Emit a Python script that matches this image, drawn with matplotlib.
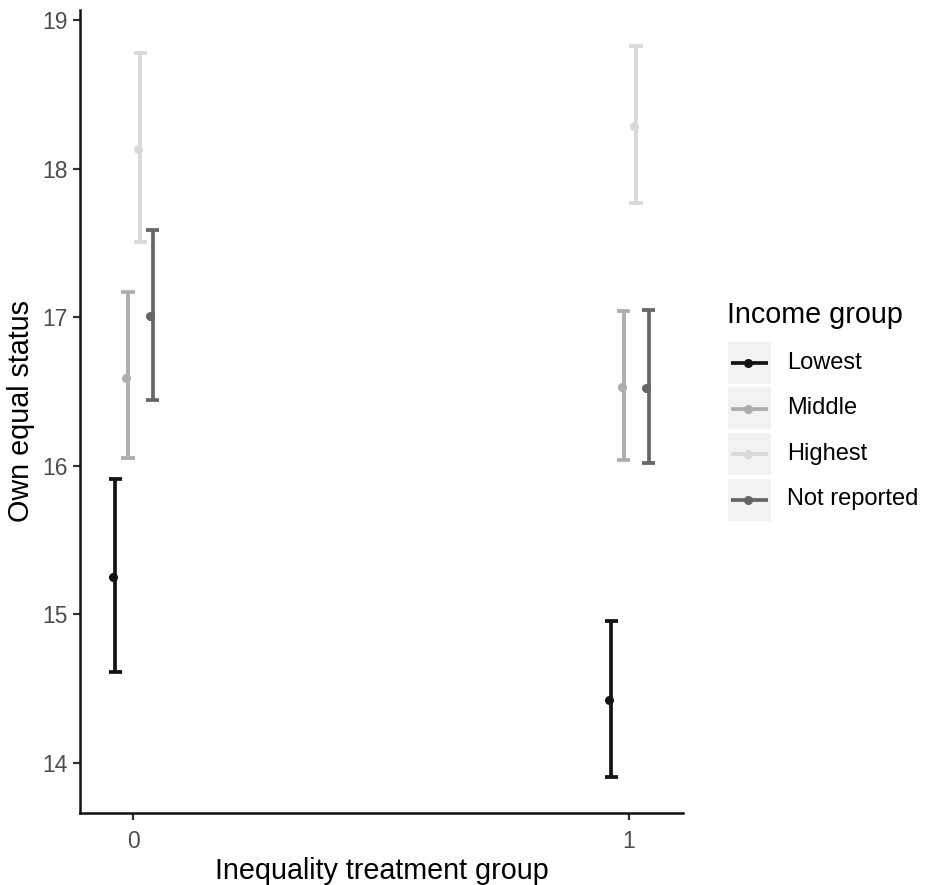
import numpy as np
import matplotlib.pyplot as plt
from matplotlib.lines import Line2D
from matplotlib.patches import Rectangle

plt.rcParams['font.family'] = ['Liberation Sans', 'DejaVu Sans']

groups = ['Lowest', 'Middle', 'Highest', 'Not reported']
colors = ['#141414', '#ADADAD', '#D9D9D9', '#666666']
treatment = [0, 1]

# mean and confidence bounds per income group, for treatment 0 and 1
means = {
    'Lowest': [15.25, 14.42],
    'Middle': [16.59, 16.53],
    'Highest': [18.135, 18.29],
    'Not reported': [17.01, 16.52],
}
lower = {
    'Lowest': [14.61, 13.90],
    'Middle': [16.05, 16.04],
    'Highest': [17.51, 17.77],
    'Not reported': [16.44, 16.02],
}
upper = {
    'Lowest': [15.91, 14.955],
    'Middle': [17.17, 17.04],
    'Highest': [18.78, 18.83],
    'Not reported': [17.59, 17.05],
}

W, H = 925, 885
fig = plt.figure(figsize=(W / 100, H / 100), dpi=100)
ax = fig.add_axes([80 / W, 1 - 813 / H, (683 - 80) / W, (813 - 10) / H])

dodge = 0.1
capw = 0.0135
lw = 2.7
for i, g in enumerate(groups):
    off = (i - 1.5) * dodge / 4
    xs = np.array(treatment) + off
    for k in range(2):
        xb = xs[k] + 0.002
        ax.plot([xb, xb], [lower[g][k], upper[g][k]], color=colors[i], lw=lw,
                solid_capstyle='butt', zorder=2)
        for yv in (lower[g][k], upper[g][k]):
            ax.plot([xb - capw, xb + capw], [yv, yv], color=colors[i], lw=lw,
                    solid_capstyle='butt', zorder=2)
    ax.plot(xs - 0.0025, means[g], 'o', color=colors[i], ms=6.5, mew=0, zorder=3)

ax.set_xlim(-0.107, 1.109)
ax.set_ylim(13.66, 19.07)
ax.set_xticks([0, 1])
ax.set_yticks([14, 15, 16, 17, 18, 19])
ax.tick_params(axis='both', length=5, width=1.6, color='#333333',
               labelcolor='#4D4D4D', labelsize=16.5, pad=4)
ax.tick_params(axis='x', pad=7)
for s in ['top', 'right']:
    ax.spines[s].set_visible(False)
for s in ['left', 'bottom']:
    ax.spines[s].set_linewidth(1.8)
    ax.spines[s].set_color('#111111')

ax.set_xlabel('Inequality treatment group', fontsize=20.7, labelpad=3)
ax.set_ylabel('Own equal status', fontsize=20.7, labelpad=5)

# legend
def fx(px):
    return px / W

def fy(py):
    return 1 - py / H

fig.text(fx(727), fy(315), 'Income group', fontsize=20.7, va='center', ha='left')
for i, g in enumerate(groups):
    top = 342 + i * 45.5
    fig.add_artist(Rectangle((fx(727.5), fy(top + 42)), 43 / W, 42 / H,
                             transform=fig.transFigure, facecolor='#F2F2F2',
                             edgecolor='none'))
    yc = fy(top + 21)
    fig.add_artist(Line2D([fx(731), fx(768)], [yc, yc], color=colors[i], lw=lw,
                          transform=fig.transFigure, solid_capstyle='butt'))
    fig.add_artist(Line2D([fx(748)], [yc], marker='o', ms=6.5, mew=0,
                          color=colors[i], transform=fig.transFigure))
    fig.text(fx(787), yc, g, fontsize=17, va='center', ha='left')

fig.savefig('out.png', dpi=100)
